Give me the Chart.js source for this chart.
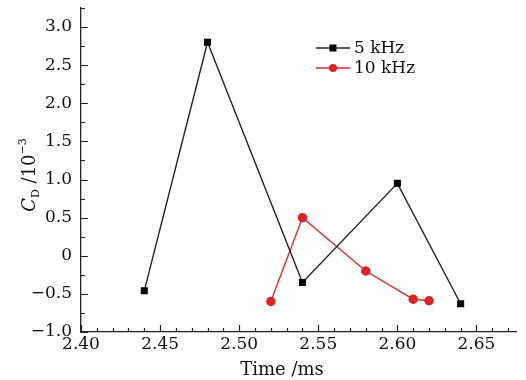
<!DOCTYPE html>
<html><head><meta charset="utf-8">
<script src="https://cdn.jsdelivr.net/npm/chart.js@4"></script>
<style>html,body{margin:0;padding:0;background:#fff;overflow:hidden}canvas{display:block}</style>
</head><body><canvas id="c" width="526" height="380" style="width:526px;height:380px"></canvas>
<script>
const seriesNames = ["5 kHz", "10 kHz"];
const time5 = [2.44, 2.48, 2.54, 2.60, 2.64];
const cd5 = [-0.46, 2.80, -0.35, 0.95, -0.63];
const time10 = [2.52, 2.54, 2.58, 2.61, 2.62];
const cd10 = [-0.60, 0.50, -0.20, -0.57, -0.59];
const xTicks = [2.40, 2.45, 2.50, 2.55, 2.60, 2.65];
const yTicks = [-1.0, -0.5, 0, 0.5, 1.0, 1.5, 2.0, 2.5, 3.0];
const xTitle = "Time /ms";

const FONT = "DejaVu Serif";
const pts = (xs, ys) => xs.map((x, i) => ({x, y: ys[i]}));

const inwardTicks = {
  id: 'inwardTicks',
  afterDatasetsDraw(chart) {
    const ctx = chart.ctx, a = chart.chartArea;
    const xs = chart.scales.x, ys = chart.scales.y;
    ctx.save();
    ctx.strokeStyle = '#222'; ctx.lineWidth = 1.2;
    ctx.beginPath();
    for (let i = 0; i <= 27; i++) {
      const v = 2.40 + i * 0.01;
      const major = i % 5 === 0;
      const px = Math.round(xs.getPixelForValue(v)) + 0.5;
      ctx.moveTo(px, a.bottom); ctx.lineTo(px, a.bottom - (major ? 7 : 4));
    }
    for (let i = 0; i <= 17; i++) {
      const v = -1.0 + i * 0.25;
      const major = i % 2 === 0;
      const py = Math.round(ys.getPixelForValue(v)) + 0.5;
      ctx.moveTo(a.left, py); ctx.lineTo(a.left + (major ? 7 : 4), py);
    }
    ctx.stroke();
    ctx.restore();

    // x axis title
    ctx.save();
    ctx.fillStyle = '#111';
    ctx.font = '18px ' + FONT; ctx.textAlign = 'center'; ctx.textBaseline = 'middle';
    ctx.fillText(xTitle, 282, 370);
    ctx.restore();

    // y axis title
    ctx.save();
    ctx.fillStyle = '#111';
    ctx.translate(29, 175);
    ctx.rotate(-Math.PI / 2);
    ctx.textBaseline = 'alphabetic';
    const parts = [['italic 18px ', 'C', 6], ['11px ', 'D', 10], ['18px ', ' /10', 6], ['11px ', '\u22123', -3]];
    let total = 0;
    parts.forEach(p => { ctx.font = p[0] + FONT; total += ctx.measureText(p[1]).width; });
    let x = -total / 2;
    parts.forEach(p => { ctx.font = p[0] + FONT; ctx.fillText(p[1], x, p[2]); x += ctx.measureText(p[1]).width; });
    ctx.restore();

    // legend
    ctx.save();
    chart.data.datasets.forEach((ds, i) => {
      const y = 48 + i * 20;
      ctx.strokeStyle = ds.borderColor; ctx.lineWidth = 1.3;
      ctx.beginPath(); ctx.moveTo(316, y); ctx.lineTo(350, y); ctx.stroke();
      ctx.fillStyle = ds.pointBackgroundColor;
      if (ds.pointStyle === 'rect') ctx.fillRect(333 - 3.5, y - 3.5, 7, 7);
      else { ctx.beginPath(); ctx.arc(333, y, 4, 0, Math.PI * 2); ctx.fill(); }
      ctx.fillStyle = '#111'; ctx.font = '17px ' + FONT; ctx.textBaseline = 'middle';
      ctx.fillText(ds.label, 354, y + 1);
    });
    ctx.restore();
  }
};

new Chart(document.getElementById('c'), {
  type: 'line',
  data: {
    datasets: [
      { label: seriesNames[0], data: pts(time5, cd5), borderColor: '#222', backgroundColor: '#000',
        pointBackgroundColor: '#000', pointBorderColor: '#000', pointStyle: 'rect', pointRadius: 4,
        borderWidth: 1.4, tension: 0 },
      { label: seriesNames[1], data: pts(time10, cd10), borderColor: '#d83030', backgroundColor: '#e02222',
        pointBackgroundColor: '#e02222', pointBorderColor: '#e02222', pointStyle: 'circle', pointRadius: 4,
        borderWidth: 1.4, tension: 0 }
    ]
  },
  options: {
    responsive: false, maintainAspectRatio: false, animation: false,
    devicePixelRatio: 1,
    layout: { padding: { left: 0, right: 10, top: 8, bottom: 0 } },
    plugins: { legend: { display: false }, tooltip: { enabled: false } },
    scales: {
      x: {
        type: 'linear', min: 2.40, max: 2.675,
        afterBuildTicks: s => { s.ticks = xTicks.map(v => ({value: v})); },
        afterFit: s => { s.height = 48; s.paddingLeft = 0; s.paddingRight = 0; },
        ticks: { color: '#111', font: { family: FONT, size: 17 }, padding: 2, maxRotation: 0, autoSkip: false,
                 callback: v => v.toFixed(2) },
        grid: { display: false, drawTicks: false, tickLength: 0 },
        border: { display: true, color: '#222', width: 1.3 }
      },
      y: {
        type: 'linear', min: -1.0, max: 3.25,
        afterBuildTicks: s => { s.ticks = yTicks.map(v => ({value: v})); },
        afterFit: s => { s.width = 81; s.paddingTop = 0; s.paddingBottom = 0; },
        ticks: { color: '#111', font: { family: FONT, size: 17 }, padding: 9, autoSkip: false,
                 callback: v => v === 0 ? '0' : (v < 0 ? '\u2212' + Math.abs(v).toFixed(1) : v.toFixed(1)) },
        grid: { display: false, drawTicks: false, tickLength: 0 },
        border: { display: true, color: '#222', width: 1.3 }
      }
    }
  },
  plugins: [inwardTicks]
});
</script>
</body></html>
